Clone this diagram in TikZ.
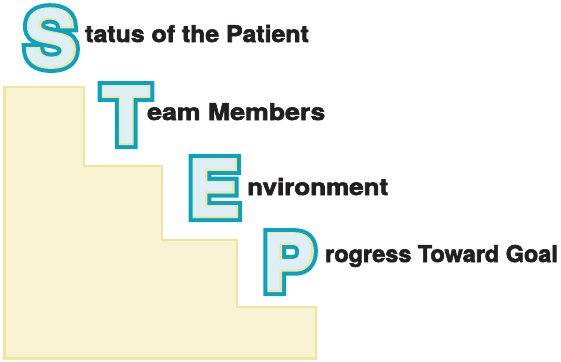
\documentclass[tikz,border=0pt]{standalone}
\usepackage{fontspec}
\setmainfont{TeX Gyre Heros}
\usepackage{xcolor}
\usepackage{tikz}
\usetikzlibrary{positioning}

\definecolor{stepteal}{HTML}{0AA2C0}
\definecolor{stepyellow}{HTML}{F0E6A0}
\definecolor{stepblue}{HTML}{DDEEF5}
\definecolor{stairfill}{HTML}{F7F2D1}
\definecolor{stairline}{HTML}{EFE59B}
\definecolor{textdark}{HTML}{231F20}

% big outlined letter: teal rim, yellow rim, light blue face
\newcommand{\stepletter}[3]{%
  \node[bigletter, text=stepteal] (#1-rim) at (#2) {\special{pdf:literal 2 Tr 11 w}#3\special{pdf:literal 0 Tr}};
  \node[bigletter, text=stepyellow] (#1-edge) at (#2) {\special{pdf:literal 2 Tr 3 w}#3\special{pdf:literal 0 Tr}};
  \node[bigletter, text=stepblue] (#1) at (#2) {#3};
}
% heavier caption text
\newcommand{\heavy}[2]{\special{pdf:literal 2 Tr 0.6 w}\scalebox{#1}[1]{#2}\special{pdf:literal 0 Tr}}

\begin{document}
\begin{tikzpicture}[x=1pt, y=-1pt,
    bigletter/.style={anchor=base, inner sep=0pt, font=\fontsize{78}{78}\selectfont\bfseries},
    caption/.style={anchor=base west, inner sep=0pt, text=textdark, font=\fontsize{23}{23}\selectfont\bfseries}]
    \useasboundingbox (0,0) rectangle (561,361);

    % Stairs
    \draw[line width=2.5pt, draw=stairline, fill=stairfill]
        (4.5,87) -- (84,87) -- (84,166) -- (162,166) -- (162,240) -- (237,240)
        -- (237,307) -- (316,307) -- (316,358.5) -- (4.5,358.5) -- cycle;

    % Words
    \node[caption] (status) at (85,42) {\heavy{1.08}{tatus of the Patient}};
    \node[caption] (team) at (147,120) {\heavy{1.16}{eam Members}};
    \node[caption] (environment) at (247,195) {\heavy{1.13}{nvironment}};
    \node[caption] (progress) at (325,262) {\heavy{1.02}{rogress Toward Goal}};

    % Letters
    \stepletter{S}{51,66.5}{S}
    \stepletter{T}{126,143.5}{T}
    \stepletter{E}{214,216.5}{E}
    \stepletter{P}{289,290.5}{P}
\end{tikzpicture}
\end{document}
